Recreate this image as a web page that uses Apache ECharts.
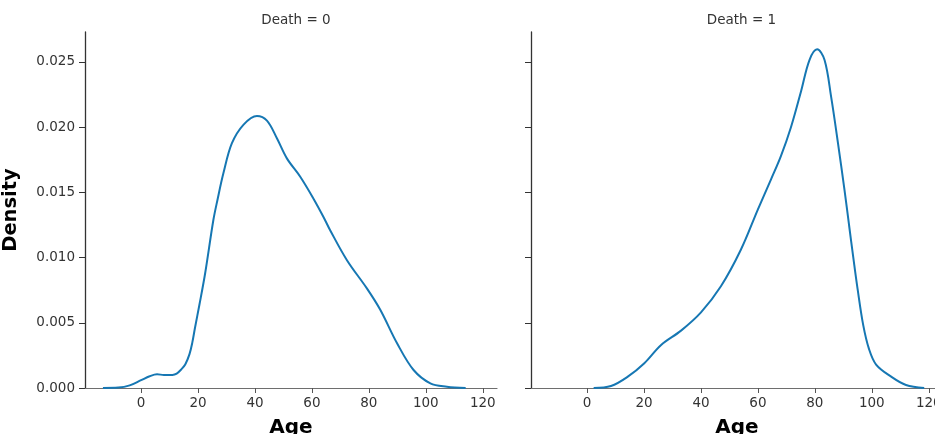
<!DOCTYPE html>
<html>
<head>
<meta charset="utf-8">
<script src="https://cdn.jsdelivr.net/npm/echarts@6/dist/echarts.min.js"></script>
<style>html,body{margin:0;padding:0;background:#fff}#c{width:935px;height:434px}</style>
</head>
<body>
<div id="c"></div>
<script>
// Death = 0 : KDE of Age
const age0 = [-13.4, -8, -4, 0, 3, 5.6, 8, 11, 12.5, 14, 15.5, 17, 18, 19, 20.5, 22.5, 25.4, 26.8, 28.9, 31.9, 36, 40.7, 44.2, 47.7, 51.2, 55.9, 60.6, 64.1, 66.4, 72.3, 79.3, 84, 89.9, 95.7, 101.6, 107.4, 114];
const dens0 = [0, 0.00003, 0.0002, 0.0006, 0.0009, 0.00105, 0.001, 0.001, 0.0011, 0.0014, 0.0018, 0.0026, 0.0035, 0.0047, 0.0064, 0.0088, 0.0129, 0.0144, 0.01646, 0.01877, 0.0202, 0.02086, 0.0205, 0.01915, 0.01761, 0.0162, 0.0145, 0.0131, 0.0121, 0.0098, 0.00764, 0.006, 0.00343, 0.00138, 0.00036, 0.0001, 0];
// Death = 1 : KDE of Age
const age1 = [2.3, 8.4, 14.3, 20.1, 26, 33, 40, 47, 54, 60, 64.6, 68.1, 71.6, 75.2, 78.1, 80.8, 83.4, 85.7, 88.1, 90.4, 92, 93.5, 95, 97, 99, 101.5, 106.8, 112, 118.4];
const dens1 = [0, 0.00015, 0.00087, 0.0019, 0.0033, 0.0044, 0.0058, 0.0078, 0.0106, 0.0137, 0.0160, 0.0178, 0.0200, 0.0228, 0.02515, 0.02597, 0.02515, 0.02234, 0.0188, 0.0152, 0.0125, 0.0100, 0.0076, 0.0048, 0.0030, 0.0018, 0.00087, 0.00023, 0];

const panelTitles = ['Death = 0', 'Death = 1'];
const xTicks = [0, 20, 40, 60, 80, 100, 120];
const yTicks = [0, 0.005, 0.010, 0.015, 0.020, 0.025];
const xName = 'Age';
const yName = 'Density';

const FONT = 'DejaVu Sans';
const lineColor = '#1677b3';

function pairs(xs, ys) { return xs.map((x, i) => [x, ys[i]]); }

function xAxisDef(idx) {
  return {
    gridIndex: idx, type: 'value', min: -19.7, max: 125,
    name: xName, nameLocation: 'middle', nameGap: 30,
    nameTextStyle: { fontFamily: FONT, fontSize: 20, fontWeight: 'bold', color: '#000' },
    axisLine: { show: true, onZero: false, lineStyle: { color: '#6e6e6e', width: 1.2 } },
    axisTick: { show: true, length: 5, customValues: xTicks, lineStyle: { color: '#555', width: 1 } },
    axisLabel: { show: true, customValues: xTicks, margin: 8, fontFamily: FONT, fontSize: 13.5, color: '#333' },
    splitLine: { show: false }
  };
}
function yAxisDef(idx) {
  return {
    gridIndex: idx, type: 'value', min: 0, max: 0.0273,
    name: idx === 0 ? yName : '', nameLocation: 'middle', nameGap: 64, nameRotate: 90,
    nameTextStyle: { fontFamily: FONT, fontSize: 19.5, fontWeight: 'bold', color: '#000' },
    axisLine: { show: true, onZero: false, lineStyle: { color: '#333', width: 1.3 } },
    axisTick: { show: true, length: 6, customValues: yTicks, lineStyle: { color: '#333', width: 1 } },
    axisLabel: { show: idx === 0, customValues: yTicks, margin: 10, fontFamily: FONT, fontSize: 13.5, color: '#333',
      formatter: v => v.toFixed(3) },
    splitLine: { show: false }
  };
}

const chart = echarts.init(document.getElementById('c'), null, { renderer: 'canvas' });
chart.setOption({
  backgroundColor: '#fff',
  animation: false,
  title: [
    { text: panelTitles[0], left: 291, top: 8, textAlign: 'center',
      textStyle: { fontFamily: FONT, fontSize: 13.5, fontWeight: 'normal', color: '#333' } },
    { text: panelTitles[1], left: 736.5, top: 8, textAlign: 'center',
      textStyle: { fontFamily: FONT, fontSize: 13.5, fontWeight: 'normal', color: '#333' } }
  ],
  grid: [
    { left: 85, top: 32, width: 412, height: 356, containLabel: false, outerBoundsMode: 'none' },
    { left: 531, top: 32, width: 412, height: 356, containLabel: false, outerBoundsMode: 'none' }
  ],
  xAxis: [xAxisDef(0), xAxisDef(1)],
  yAxis: [yAxisDef(0), yAxisDef(1)],
  series: [
    { type: 'line', xAxisIndex: 0, yAxisIndex: 0, data: pairs(age0, dens0), smooth: 0.35,
      showSymbol: false, lineStyle: { color: lineColor, width: 2 } },
    { type: 'line', xAxisIndex: 1, yAxisIndex: 1, data: pairs(age1, dens1), smooth: 0.35,
      showSymbol: false, lineStyle: { color: lineColor, width: 2 } }
  ]
});
</script>
</body>
</html>
